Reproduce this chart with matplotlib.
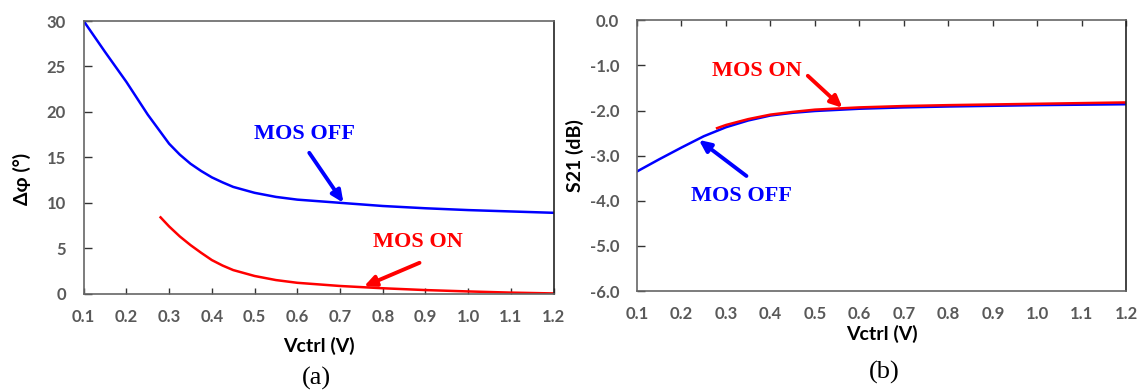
import matplotlib
matplotlib.use('Agg')
import matplotlib.pyplot as plt

plt.rcParams['font.family'] = ['Lato', 'DejaVu Sans']

# ─── Data ────
v_off = [0.1, 0.15, 0.2, 0.25, 0.3, 0.325, 0.35, 0.375, 0.4, 0.425, 0.45, 0.5, 0.55,
         0.6, 0.7, 0.8, 0.9, 1.0, 1.1, 1.2]
phase_off = [30.0, 26.6, 23.3, 19.7, 16.5, 15.3, 14.3, 13.5, 12.8, 12.25, 11.75, 11.1, 10.65,
             10.35, 10.0, 9.65, 9.4, 9.2, 9.05, 8.9]

v_on = [0.28, 0.3, 0.325, 0.35, 0.375, 0.4, 0.425, 0.45, 0.5, 0.55, 0.6, 0.7, 0.8,
        0.9, 1.0, 1.1, 1.2]
phase_on = [8.4, 7.4, 6.3, 5.35, 4.5, 3.7, 3.1, 2.6, 1.95, 1.5, 1.2, 0.85, 0.6,
            0.4, 0.25, 0.12, 0.03]

v_s21_off = [0.1, 0.15, 0.2, 0.25, 0.3, 0.35, 0.4, 0.45, 0.5, 0.6, 0.7, 0.8, 0.9, 1.0, 1.1, 1.2]
s21_off = [-3.35, -3.08, -2.82, -2.57, -2.37, -2.22, -2.11, -2.05, -2.01, -1.96, -1.93, -1.91,
           -1.895, -1.88, -1.87, -1.86]
v_s21_on = [0.28, 0.3, 0.35, 0.4, 0.45, 0.5, 0.6, 0.7, 0.8, 0.9, 1.0, 1.1, 1.2]
s21_on = [-2.39, -2.32, -2.19, -2.09, -2.03, -1.98, -1.93, -1.9, -1.88, -1.865, -1.85, -1.835, -1.82]

x_ticks = [0.1, 0.2, 0.3, 0.4, 0.5, 0.6, 0.7, 0.8, 0.9, 1.0, 1.1, 1.2]
phase_ticks = [0, 5, 10, 15, 20, 25, 30]
s21_ticks = [0.0, -1.0, -2.0, -3.0, -4.0, -5.0, -6.0]

BLUE = '#0000ff'
RED = '#ff0000'
GRAY = '#595959'
SPINE = '#666666'

fig = plt.figure(figsize=(11.43, 3.9), dpi=100)
ax1 = fig.add_axes([0.0732, 0.2469, 0.4112, 0.6992])
ax2 = fig.add_axes([0.5573, 0.2538, 0.4281, 0.6941])

tick_font = dict(fontsize=12, fontweight='bold', color=GRAY)
label_font = dict(fontsize=14, fontweight='bold', color='black')
anno_font = dict(family='Liberation Serif', fontsize=16, fontweight='bold')
arrow = dict(arrowstyle='-|>,head_length=0.7,head_width=0.32', lw=2.8, shrinkA=0, shrinkB=0)


def style_axes(ax):
    for name, s in ax.spines.items():
        s.set_color('#222222' if name == 'right' else SPINE)
        s.set_linewidth(1.2)
    ax.set_xlim(0.1, 1.2)
    ax.set_xticks(x_ticks)
    ax.set_xticklabels([f'{t:.1f}' for t in x_ticks], **tick_font)
    ax.tick_params(axis='y', direction='in', length=5.5, width=1, color='#333333', pad=12.7)


# ─── (a) phase shift ────
ax1.plot(v_off, phase_off, color=BLUE, lw=1.8)
ax1.plot(v_on, phase_on, color=RED, lw=1.8)
style_axes(ax1)
ax1.set_ylim(0, 30)
ax1.set_yticks(phase_ticks)
ax1.set_yticklabels([str(t) for t in phase_ticks], **tick_font)
ax1.tick_params(axis='x', direction='in', length=4.5, width=1, color='#333333', pad=11)
ax1.set_xlabel('Vctrl (V)', **label_font)
ax1.xaxis.set_label_coords(0.5, -0.157)
ax1.set_ylabel('Δφ (°)', **label_font)
ax1.yaxis.set_label_coords(-0.111, 0.42)

ax1.text(0.617, 17.6, 'MOS OFF', color=BLUE, ha='center', va='center', **anno_font)
ax1.annotate('', xy=(0.708, 10.0), xytext=(0.628, 15.5),
             arrowprops=dict(color=BLUE, **arrow))
ax1.text(0.882, 5.7, 'MOS ON', color=RED, ha='center', va='center', **anno_font)
ax1.annotate('', xy=(0.756, 0.8), xytext=(0.886, 3.4),
             arrowprops=dict(color=RED, **arrow))

# ─── (b) S21 ────
ax2.plot(v_s21_off, s21_off, color=BLUE, lw=1.8)
ax2.plot(v_s21_on, s21_on, color=RED, lw=1.8)
style_axes(ax2)
ax2.set_ylim(-6, 0)
ax2.set_yticks(s21_ticks)
ax2.set_yticklabels([f'{t:.1f}' for t in s21_ticks], **tick_font)
ax2.tick_params(axis='x', bottom=False, top=True, direction='in', length=4.5, width=1,
                color='#333333', pad=11)
ax2.set_xlabel('Vctrl (V)', **label_font)
ax2.xaxis.set_label_coords(0.5, -0.127)
ax2.set_ylabel('S21 (dB)', **label_font)
ax2.yaxis.set_label_coords(-0.109, 0.5)

ax2.text(0.369, -1.12, 'MOS ON', color=RED, ha='center', va='center', **anno_font)
ax2.annotate('', xy=(0.562, -1.94), xytext=(0.484, -1.23),
             arrowprops=dict(color=RED, **arrow))
ax2.text(0.334, -3.9, 'MOS OFF', color=BLUE, ha='center', va='center', **anno_font)
ax2.annotate('', xy=(0.239, -2.65), xytext=(0.346, -3.45),
             arrowprops=dict(color=BLUE, **arrow))

fig.text(316 / 1143, 1 - 378 / 390, '(a)', family='Liberation Serif', fontsize=19,
         ha='center', va='center')
fig.text(884 / 1143, 1 - 372 / 390, '(b)', family='Liberation Serif', fontsize=19,
         ha='center', va='center')

fig.savefig('out.png', dpi=100)
